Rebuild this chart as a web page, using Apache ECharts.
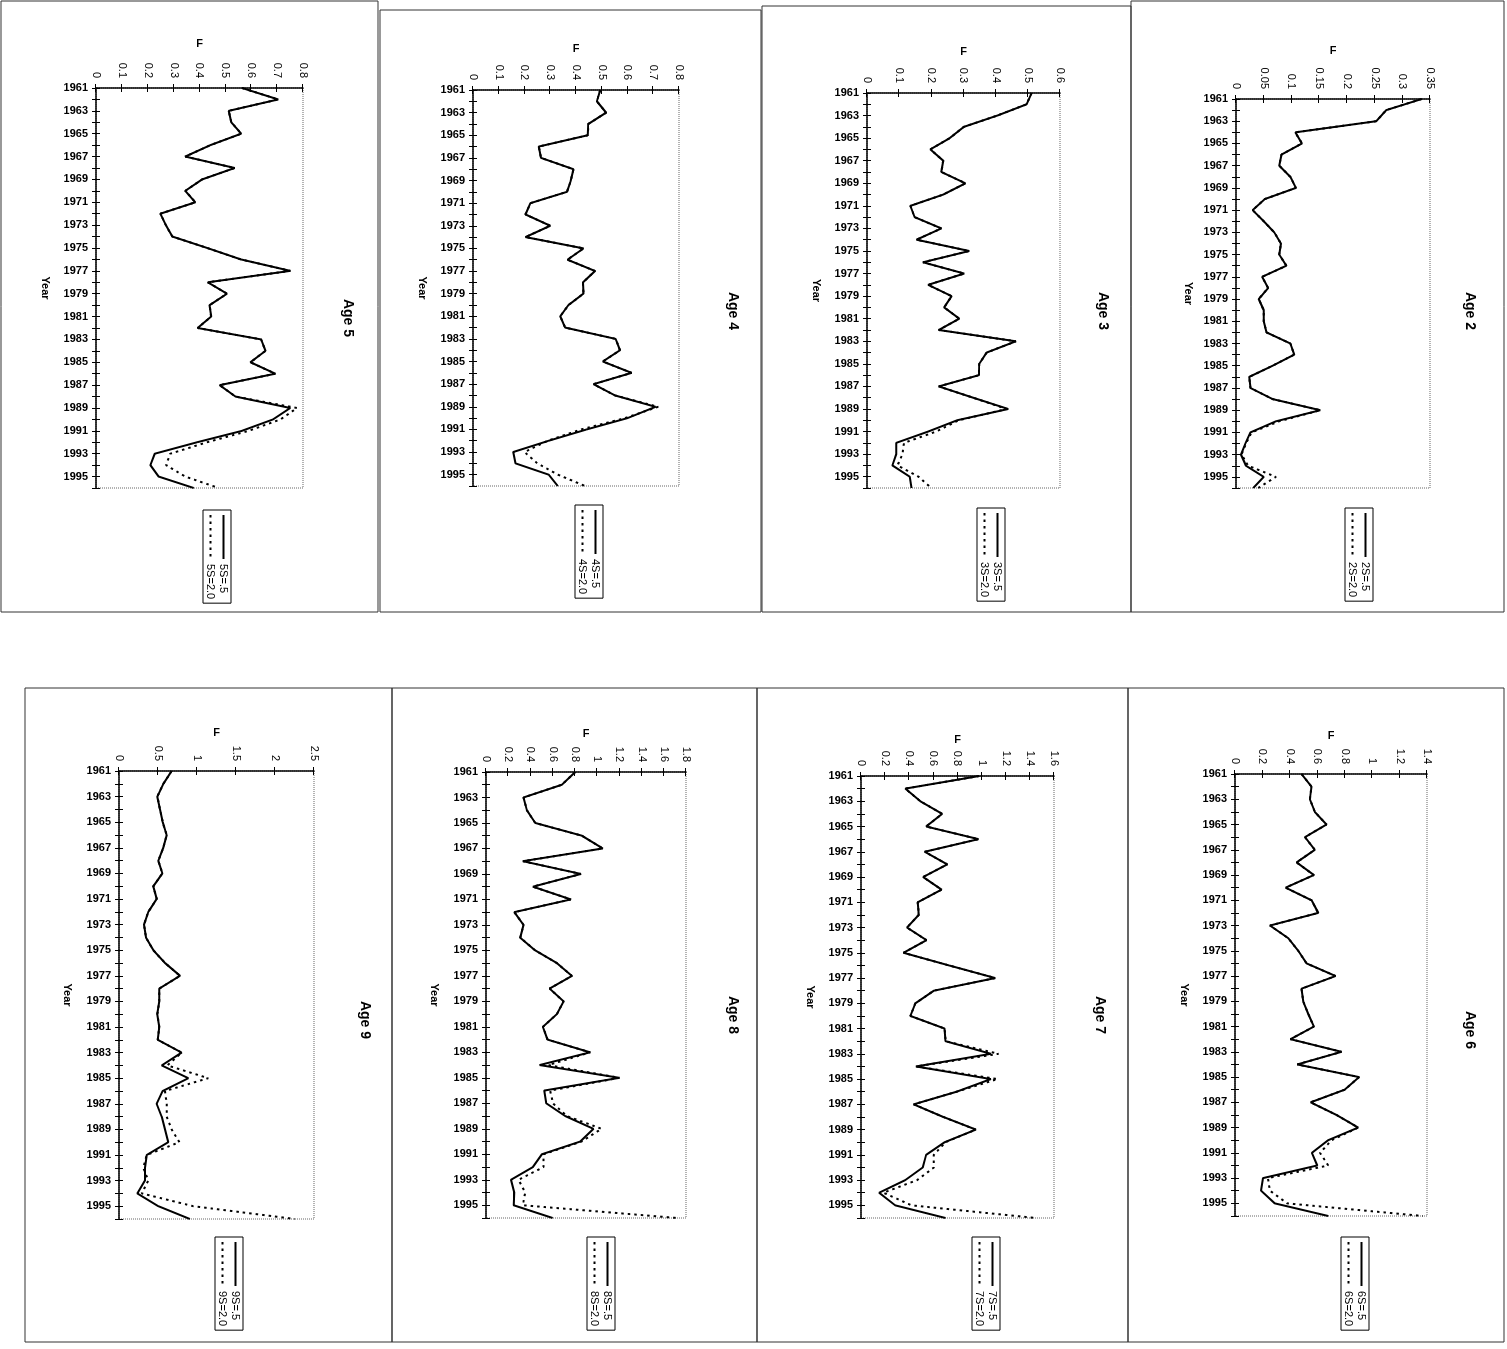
<!DOCTYPE html>
<html>
<head>
<meta charset="utf-8">
<script src="https://cdn.jsdelivr.net/npm/echarts@6/dist/echarts.min.js"></script>
<style>
html, body { margin: 0; padding: 0; background: #fff; width: 1507px; height: 1349px; overflow: hidden; }
#chart { position: absolute; left: 79px; top: -79px; width: 1349px; height: 1507px; transform: rotate(90deg); transform-origin: 50% 50%; }
</style>
</head>
<body>
<div id="chart"></div>
<script>
// ---------- data ----------
const years = ['1961','1962','1963','1964','1965','1966','1967','1968','1969','1970',
  '1971','1972','1973','1974','1975','1976','1977','1978','1979','1980',
  '1981','1982','1983','1984','1985','1986','1987','1988','1989','1990',
  '1991','1992','1993','1994','1995','1996'];

const ageLabels = ['Age 2','Age 3','Age 4','Age 5','Age 6','Age 7','Age 8','Age 9'];
const seriesNamesA = ['2S=.5','3S=.5','4S=.5','5S=.5','6S=.5','7S=.5','8S=.5','9S=.5'];
const seriesNamesB = ['2S=2.0','3S=2.0','4S=2.0','5S=2.0','6S=2.0','7S=2.0','8S=2.0','9S=2.0'];
const fMax  = [0.35, 0.6, 0.8, 0.8, 1.4, 1.6, 1.8, 2.5];
const fStep = [0.05, 0.1, 0.1, 0.1, 0.2, 0.2, 0.2, 0.5];

const age2S05 = [0.335,0.271,0.253,0.107,0.119,0.082,0.078,0.098,0.108,0.052,0.030,0.050,0.069,0.081,0.078,0.091,0.047,0.058,0.041,0.050,0.050,0.055,0.098,0.105,0.066,0.024,0.026,0.066,0.152,0.072,0.026,0.017,0.009,0.018,0.050,0.031];
const age2S20 = [0.335,0.271,0.253,0.107,0.119,0.082,0.078,0.098,0.108,0.052,0.030,0.050,0.069,0.081,0.078,0.091,0.047,0.058,0.041,0.050,0.050,0.055,0.098,0.105,0.066,0.024,0.026,0.066,0.152,0.078,0.028,0.018,0.010,0.022,0.072,0.040];

const age3S05 = [0.512,0.496,0.405,0.301,0.257,0.197,0.237,0.231,0.306,0.237,0.135,0.148,0.231,0.154,0.318,0.174,0.302,0.190,0.263,0.240,0.287,0.223,0.463,0.372,0.349,0.348,0.223,0.330,0.439,0.280,0.190,0.091,0.091,0.079,0.133,0.138];
const age3S20 = [0.512,0.496,0.405,0.301,0.257,0.197,0.237,0.231,0.306,0.237,0.135,0.148,0.231,0.154,0.318,0.174,0.302,0.190,0.263,0.240,0.287,0.223,0.463,0.372,0.349,0.348,0.223,0.330,0.434,0.285,0.215,0.115,0.110,0.095,0.160,0.200];

const age4S05 = [0.494,0.481,0.517,0.448,0.446,0.255,0.264,0.390,0.380,0.365,0.223,0.204,0.300,0.204,0.429,0.367,0.474,0.427,0.429,0.371,0.339,0.358,0.554,0.571,0.504,0.616,0.468,0.552,0.709,0.600,0.442,0.294,0.156,0.165,0.294,0.329];
const age4S20 = [0.494,0.481,0.517,0.448,0.446,0.255,0.264,0.390,0.380,0.365,0.223,0.204,0.300,0.204,0.429,0.367,0.474,0.427,0.429,0.371,0.339,0.358,0.554,0.571,0.504,0.616,0.468,0.552,0.719,0.590,0.420,0.290,0.200,0.250,0.330,0.435];

const age5S05 = [0.564,0.704,0.513,0.523,0.561,0.442,0.345,0.536,0.410,0.345,0.384,0.249,0.270,0.295,0.430,0.560,0.751,0.432,0.506,0.439,0.445,0.393,0.638,0.655,0.597,0.693,0.478,0.539,0.751,0.684,0.564,0.390,0.227,0.210,0.242,0.378];
const age5S20 = [0.564,0.704,0.513,0.523,0.561,0.442,0.345,0.536,0.410,0.345,0.384,0.249,0.270,0.295,0.430,0.560,0.751,0.432,0.506,0.439,0.445,0.393,0.638,0.655,0.597,0.693,0.478,0.539,0.777,0.713,0.590,0.429,0.287,0.271,0.345,0.474];

const age6S05 = [0.485,0.558,0.546,0.582,0.667,0.510,0.582,0.449,0.575,0.369,0.558,0.607,0.255,0.388,0.461,0.522,0.733,0.485,0.497,0.534,0.575,0.405,0.777,0.454,0.905,0.800,0.551,0.740,0.898,0.679,0.560,0.600,0.204,0.190,0.290,0.680];
const age6S20 = [0.485,0.558,0.546,0.582,0.667,0.510,0.582,0.449,0.575,0.369,0.558,0.607,0.255,0.388,0.461,0.522,0.733,0.485,0.497,0.534,0.575,0.405,0.777,0.454,0.905,0.800,0.551,0.740,0.898,0.704,0.620,0.680,0.240,0.255,0.380,1.370];

const age7S05 = [0.980,0.367,0.492,0.673,0.540,0.974,0.529,0.715,0.515,0.668,0.470,0.479,0.381,0.543,0.353,0.729,1.113,0.604,0.451,0.409,0.693,0.701,1.077,0.456,1.077,0.793,0.437,0.682,0.952,0.693,0.540,0.512,0.367,0.150,0.284,0.701];
const age7S20 = [0.980,0.367,0.492,0.673,0.540,0.974,0.529,0.715,0.515,0.668,0.470,0.479,0.381,0.543,0.353,0.729,1.113,0.604,0.451,0.409,0.693,0.701,1.141,0.456,1.132,0.793,0.437,0.682,0.952,0.700,0.604,0.604,0.465,0.186,0.420,1.450];

const age8S05 = [0.803,0.683,0.338,0.368,0.443,0.863,1.051,0.332,0.854,0.422,0.764,0.255,0.338,0.308,0.443,0.638,0.773,0.572,0.698,0.638,0.512,0.554,0.937,0.482,1.201,0.524,0.542,0.713,0.967,0.848,0.503,0.422,0.225,0.255,0.249,0.600];
const age8S20 = [0.803,0.683,0.338,0.368,0.443,0.863,1.051,0.332,0.854,0.422,0.764,0.255,0.338,0.308,0.443,0.638,0.773,0.572,0.698,0.638,0.512,0.554,0.937,0.560,1.201,0.578,0.602,0.728,1.040,0.860,0.518,0.518,0.293,0.353,0.332,1.720];

const age9S05 = [0.675,0.568,0.491,0.526,0.560,0.611,0.568,0.504,0.556,0.440,0.483,0.376,0.321,0.346,0.440,0.590,0.782,0.517,0.517,0.491,0.517,0.496,0.803,0.547,0.889,0.560,0.483,0.547,0.590,0.632,0.355,0.333,0.333,0.235,0.504,0.910];
const age9S20 = [0.675,0.568,0.491,0.526,0.560,0.611,0.568,0.504,0.556,0.440,0.483,0.376,0.321,0.346,0.440,0.590,0.782,0.517,0.517,0.491,0.517,0.496,0.803,0.620,1.145,0.590,0.611,0.611,0.675,0.774,0.355,0.312,0.376,0.291,0.953,2.256];

const valuesA = [age2S05, age3S05, age4S05, age5S05, age6S05, age7S05, age8S05, age9S05];
const valuesB = [age2S20, age3S20, age4S20, age5S20, age6S20, age7S20, age8S20, age9S20];

// ---------- layout (landscape frame, rotated by CSS) ----------
const layout = [
  { grid: [99, 77, 389, 194],   frame: [1, 3, 611, 373],     title: [311, 37],   legend: [508, 134],  yearGap: 42, fGap: 43 },
  { grid: [93, 447, 395, 193],  frame: [6, 376, 606, 369],   title: [311, 404],  legend: [508, 502],  yearGap: 45, fGap: 36 },
  { grid: [90, 828, 396, 206],  frame: [10, 746, 602, 381],  title: [311, 774],  legend: [505, 904],  yearGap: 45, fGap: 36 },
  { grid: [88, 1204, 400, 207], frame: [1, 1129, 611, 377],  title: [318, 1159], legend: [510, 1276], yearGap: 45, fGap: 39 },
  { grid: [774, 80, 442, 192],  frame: [688, 3, 654, 376],   title: [1030, 37],  legend: [1237, 138], yearGap: 45, fGap: 33 },
  { grid: [776, 453, 442, 193], frame: [688, 379, 654, 371], title: [1015, 407], legend: [1237, 507], yearGap: 45, fGap: 31 },
  { grid: [772, 821, 446, 200], frame: [688, 750, 654, 365], title: [1015, 774], legend: [1237, 892], yearGap: 46, fGap: 33 },
  { grid: [771, 1193, 448, 195],frame: [688, 1115, 654, 367],title: [1020, 1142],legend: [1237, 1264],yearGap: 46, fGap: 33 }
];

const FONT = 'Liberation Sans, Arial, Helvetica, sans-serif';

const grids = [], xAxes = [], yAxes = [], series = [], legends = [], graphics = [];

layout.forEach((L, i) => {
  grids.push({
    left: L.grid[0], top: L.grid[1], width: L.grid[2], height: L.grid[3],
    show: true, borderColor: '#666', borderWidth: 1, borderType: 'dotted',
    backgroundColor: 'transparent', containLabel: false
  });
  // main year axis
  xAxes.push({
    type: 'category', gridIndex: i, data: years, boundaryGap: false, position: 'bottom',
    name: 'Year', nameLocation: 'middle', nameGap: L.yearGap,
    nameTextStyle: { fontFamily: FONT, fontSize: 11, fontWeight: 'bold', color: '#000' },
    axisLine: { show: true, lineStyle: { color: '#000', width: 1.5 } },
    axisTick: { show: true, interval: 0, length: 4, lineStyle: { color: '#000', width: 1 } },
    axisLabel: { interval: 1, rotate: 90, margin: 8, fontFamily: FONT, fontSize: 11, fontWeight: 'bold', color: '#000' },
    splitLine: { show: false }
  });
  // overlay for crossing ticks
  xAxes.push({
    type: 'category', gridIndex: i, data: years, boundaryGap: false, position: 'bottom', offset: 0,
    axisLine: { show: false },
    axisTick: { show: true, inside: true, interval: 0, length: 4, lineStyle: { color: '#000', width: 1 } },
    axisLabel: { show: false }, splitLine: { show: false }
  });
  // main F axis
  yAxes.push({
    type: 'value', gridIndex: i, min: 0, max: fMax[i], interval: fStep[i], position: 'left',
    name: 'F', nameLocation: 'middle', nameGap: L.fGap,
    nameTextStyle: { fontFamily: FONT, fontSize: 11, fontWeight: 'bold', color: '#000' },
    axisLine: { show: true, lineStyle: { color: '#000', width: 1.5 } },
    axisTick: { show: true, length: 4, lineStyle: { color: '#000', width: 1 } },
    axisLabel: { margin: 10, fontFamily: FONT, fontSize: 11, color: '#000' },
    splitLine: { show: false }
  });
  yAxes.push({
    type: 'value', gridIndex: i, min: 0, max: fMax[i], interval: fStep[i], position: 'left', offset: 0,
    axisLine: { show: false },
    axisTick: { show: true, inside: true, length: 4, lineStyle: { color: '#000', width: 1 } },
    axisLabel: { show: false }, splitLine: { show: false }
  });

  series.push({
    type: 'line', name: seriesNamesB[i], xAxisIndex: 2 * i, yAxisIndex: 2 * i,
    data: valuesB[i], symbol: 'none', silent: true, z: 2,
    lineStyle: { color: '#000', width: 2, type: [2.5, 4] },
    itemStyle: { color: '#000' }
  });
  series.push({
    type: 'line', name: seriesNamesA[i], xAxisIndex: 2 * i, yAxisIndex: 2 * i,
    data: valuesA[i], symbol: 'none', silent: true, z: 3,
    lineStyle: { color: '#000', width: 2, type: 'solid' },
    itemStyle: { color: '#000' }
  });

  legends.push({
    orient: 'vertical', left: L.legend[0], top: L.legend[1],
    data: [seriesNamesA[i], seriesNamesB[i]],
    borderColor: '#000', borderWidth: 1, padding: [2, 4, 2, 4],
    itemGap: 2, itemWidth: 44, itemHeight: 12, selectedMode: false,
    backgroundColor: '#fff',
    itemStyle: { opacity: 0 },
    lineStyle: { width: 2 },
    textStyle: { fontFamily: FONT, fontSize: 11, color: '#000', padding: [0, 0, 0, 0] }
  });

  graphics.push({
    type: 'rect', z: -10, silent: true,
    shape: { x: L.frame[0], y: L.frame[1], width: L.frame[2], height: L.frame[3] },
    style: { fill: 'none', stroke: '#333', lineWidth: 1 }
  });
  graphics.push({
    type: 'text', silent: true, x: L.title[0], y: L.title[1],
    style: {
      text: ageLabels[i], fill: '#000',
      font: 'bold 14px ' + FONT,
      align: 'center', verticalAlign: 'middle',
      textAlign: 'center', textVerticalAlign: 'middle'
    }
  });
});

const chart = echarts.init(document.getElementById('chart'), null, { renderer: 'canvas' });
chart.setOption({
  animation: false,
  backgroundColor: '#fff',
  grid: grids,
  xAxis: xAxes,
  yAxis: yAxes,
  legend: legends,
  series: series,
  graphic: graphics
});
</script>
</body>
</html>
